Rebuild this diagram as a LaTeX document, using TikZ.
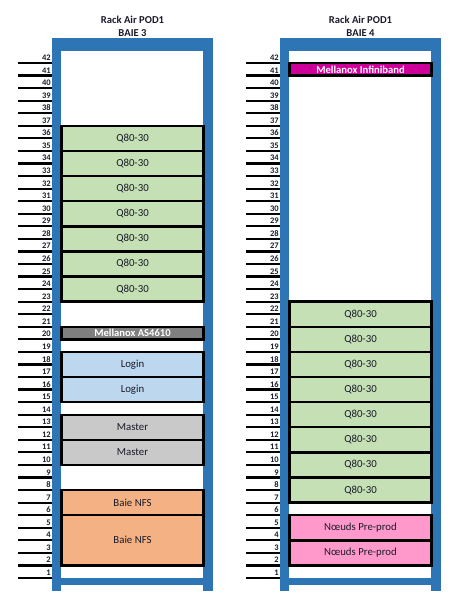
\documentclass[tikz,border=0pt]{standalone}
\usepackage{fontspec}
\setmainfont{Carlito}
\usetikzlibrary{positioning}

\definecolor{rackblue}{HTML}{2E75B6}
\definecolor{qgreen}{HTML}{C5E0B4}
\definecolor{loginblue}{HTML}{BDD7EE}
\definecolor{mastergray}{HTML}{C9C9C9}
\definecolor{nfsorange}{HTML}{F4B183}
\definecolor{preprodpink}{HTML}{FF99CC}
\definecolor{switchgray}{HTML}{7F7F7F}
\definecolor{ibmagenta}{HTML}{CC0099}
\definecolor{labeltext}{HTML}{1A1A2A}

\begin{document}
\begin{tikzpicture}[x=1pt, y=1pt,
    rackframe/.style={fill=rackblue, draw=none},
    tickline/.style={line width=2.2pt, black},
    unitnum/.style={anchor=east, inner sep=0pt, font=\bfseries\fontsize{8.5}{9}\selectfont, text=labeltext},
    racktitle/.style={inner sep=0pt, font=\bfseries\fontsize{10.6}{12}\selectfont, text=labeltext},
    dev/.style={rectangle, draw=black, line width=2.4pt, minimum width=142pt,
                inner sep=0pt, font=\fontsize{10.8}{12}\selectfont, text=labeltext},
    dev2u/.style={dev, minimum height=25.12pt},
    dev1u/.style={dev, minimum height=12.56pt, font=\bfseries\fontsize{10.6}{12}\selectfont, text=white},
    qbox/.style={dev2u, fill=qgreen},
    loginbox/.style={dev2u, fill=loginblue},
    masterbox/.style={dev2u, fill=mastergray},
    nfsbox/.style={dev2u, fill=nfsorange},
    preprodbox/.style={dev2u, fill=preprodpink}
]
    \useasboundingbox (0,0) rectangle (455,600);

    % racks: frame, unit ticks, numbers, titles
    \foreach \rx/\baie in {0/3, 228/4} {
        \fill[rackframe] (\rx+52,9) rectangle (\rx+61,562);
        \fill[rackframe] (\rx+203,9) rectangle (\rx+213,562);
        \fill[rackframe] (\rx+52,549) rectangle (\rx+213,562);
        \fill[rackframe] (\rx+52,15) rectangle (\rx+213,22);
        \foreach \u in {1,...,42} {
            \draw[tickline] (\rx+18,{22+(\u-1)*12.56}) -- (\rx+52,{22+(\u-1)*12.56});
            \node[unitnum] (u\baie-\u) at (\rx+51,{22+(\u-0.5)*12.56-1}) {\u};
        }
        \node[racktitle] (pod\baie) at (\rx+132.5,580) {Rack Air POD1};
        \node[racktitle] (baie\baie) at (\rx+132.5,567) {BAIE \baie};
    }

    % BAIE 3
    \foreach \b in {23,25,...,35}
        \node[qbox] (q3-\b) at (132.5,{22+\b*12.56}) {Q80-30};
    \node[dev1u, fill=switchgray] (as4610) at (132.5,{22+19.5*12.56}) {Mellanox AS4610};
    \node[loginbox] (login1) at (132.5,{22+17*12.56}) {Login};
    \node[loginbox] (login2) at (132.5,{22+15*12.56}) {Login};
    \node[masterbox] (master1) at (132.5,{22+12*12.56}) {Master};
    \node[masterbox] (master2) at (132.5,{22+10*12.56}) {Master};
    \node[nfsbox] (nfs1) at (132.5,{22+6*12.56}) {Baie NFS};
    \node[nfsbox, minimum height=50.24pt] (nfs2) at (132.5,{22+3*12.56}) {Baie NFS};

    % BAIE 4
    \node[dev1u, fill=ibmagenta] (infiniband) at (360.5,{22+40.5*12.56}) {Mellanox Infiniband};
    \foreach \b in {7,9,...,21}
        \node[qbox] (q4-\b) at (360.5,{22+\b*12.56}) {Q80-30};
    \node[preprodbox] (preprod1) at (360.5,{22+4*12.56}) {Nœuds Pre-prod};
    \node[preprodbox] (preprod2) at (360.5,{22+2*12.56}) {Nœuds Pre-prod};
\end{tikzpicture}
\end{document}
